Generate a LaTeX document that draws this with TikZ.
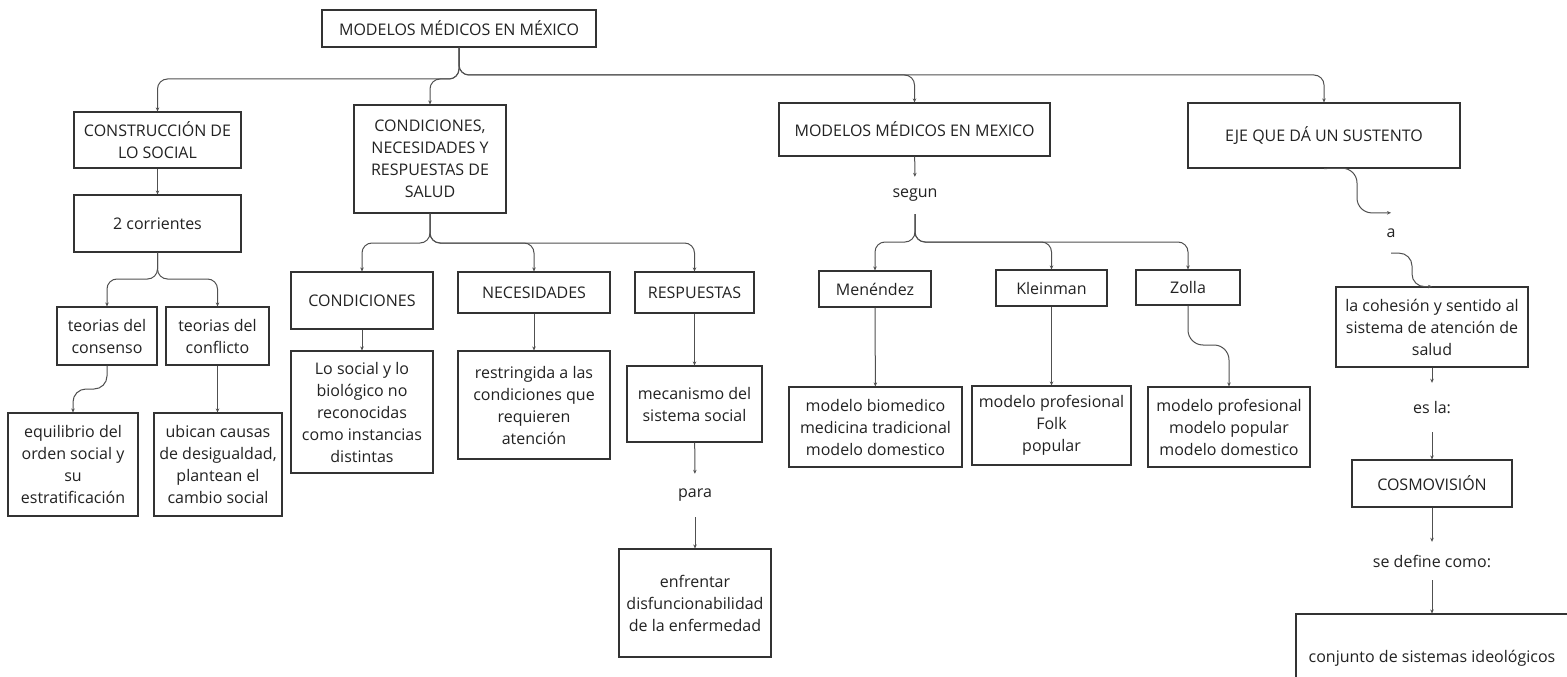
\documentclass[tikz,border=0pt]{standalone}
\usepackage{fontspec}
\setmainfont{Open Sans}
\usetikzlibrary{arrows.meta,calc}
\definecolor{boxc}{HTML}{333333}
\definecolor{linec}{HTML}{505050}
\definecolor{txtc}{HTML}{222222}
\begin{document}
\begin{tikzpicture}[x=1pt,y=-1pt,
  box/.style={draw=boxc,line width=1.1pt,align=center,inner sep=0pt,text=txtc,font=\fontsize{16}{22}\selectfont},
  wh/.style 2 args={minimum width=#1pt,minimum height=#2pt},
  lbl/.style={inner sep=0pt,align=center,text=txtc,font=\fontsize{16}{22}\selectfont},
  conn/.style={draw=linec,line width=1pt,-{Stealth[length=4pt,width=3.5pt]},rounded corners=10pt}]
\useasboundingbox (0,0) rectangle (1567,677);
\clip (0,0) rectangle (1567,677);
\fill[white] (0,0) rectangle (1567,677);
% nodes
\node[box,wh={274}{37}] (root) at (459,28.5) {MODELOS MÉDICOS EN MÉXICO};
\node[box,wh={167}{56}] (cons) at (157.5,140) {CONSTRUCCIÓN DE\\LO SOCIAL};
\node[box,wh={152}{108}] (cnr) at (430,159) {CONDICIONES,\\NECESIDADES Y\\RESPUESTAS DE\\SALUD};
\node[box,wh={271}{53}] (mmm) at (914.5,129.5) {MODELOS MÉDICOS EN MEXICO};
\node[box,wh={272}{65}] (eje) at (1324,135.5) {EJE QUE DÁ UN SUSTENTO};
\node[box,wh={167}{57}] (dos) at (157.5,223.5) {2 corrientes};
\node[box,wh={100}{58}] (consenso) at (107,336) {teorias del\\consenso};
\node[box,wh={103}{58}] (conflicto) at (217.5,336) {teorias del\\conflicto};
\node[box,wh={130}{103}] (equil) at (73,464.5) {equilibrio del\\orden social y\\su\\estratificación};
\node[box,wh={128}{103}] (ubican) at (218,464.5) {ubican causas\\de desigualdad,\\plantean el\\cambio social};
\node[box,wh={142}{57}] (condic) at (362,300.5) {CONDICIONES};
\node[box,wh={142}{122}] (losocial) at (362,412) {Lo social y lo\\biológico no\\reconocidas\\como instancias\\distintas};
\node[box,wh={152}{41}] (neces) at (534,292.5) {NECESIDADES};
\node[box,wh={119}{41}] (respu) at (694.5,292.5) {RESPUESTAS};
\node[box,wh={152}{108}] (restr) at (534,405) {restringida a las\\condiciones que\\requieren\\atención};
\node[box,wh={135}{76}] (mecan) at (694.5,404) {mecanismo del\\sistema social};
\node[lbl,minimum height=43pt] (para) at (695,495.5) {para};
\node[box,wh={152}{108}] (enfr) at (695,603) {enfrentar\\disfuncionabilidad\\de la enfermedad};
\node[lbl,minimum height=37pt] (segun) at (915,195.5) {segun};
\node[box,wh={112}{36}] (menen) at (875,289) {Menéndez};
\node[box,wh={111}{36}] (klein) at (1051.5,288) {Kleinman};
\node[box,wh={104}{35}] (zolla) at (1188,287.5) {Zolla};
\node[box,wh={173}{80}] (bio) at (875.5,427) {modelo biomedico\\medicina tradicional\\modelo domestico};
\node[box,wh={159}{79}] (kprof) at (1051.5,425.5) {modelo profesional\\Folk\\popular};
\node[box,wh={162}{80}] (zprof) at (1229,427) {modelo profesional\\modelo popular\\modelo domestico};
\node[lbl,minimum height=40pt] (a) at (1391,233) {a};
\node[box,wh={192}{80}] (cohes) at (1432,327) {la cohesión y sentido al\\sistema de atención de\\salud};
\node[lbl,minimum height=49pt] (esla) at (1432,407.5) {es la:};
\node[box,wh={160}{47}] (cosmo) at (1432,483.5) {COSMOVISIÓN};
\node[lbl,minimum height=38pt] (sedef) at (1432,561) {se define como:};
\node[box,wh={272}{88}] (conj) at (1432,658) {conjunto de sistemas ideológicos};
% connectors
\draw[conn] (root.south) -- (459,79) -- (157.5,79) -- (cons.north);
\draw[conn] (root.south) -- (459,79) -- (430,79) -- (cnr.north);
\draw[conn] (root.south) -- (459,75) -- (914.5,75) -- (mmm.north);
\draw[conn] (root.south) -- (459,75) -- (1324,75) -- (eje.north);
\draw[conn] (cons) -- (dos);
\draw[conn] (dos.south) -- (157.5,279) -- (107,279) -- (consenso.north);
\draw[conn] (dos.south) -- (157.5,279) -- (217.5,279) -- (conflicto.north);
\draw[conn,rounded corners=13pt] (consenso.south) -- (107,389) -- (73,389) -- (equil.north);
\draw[conn] (conflicto.south) -- (conflicto.south |- ubican.north);
\draw[conn] (cnr.south) -- (430,243) -- (362,243) -- (condic.north);
\draw[conn] (cnr.south) -- (430,243) -- (534,243) -- (neces.north);
\draw[conn] (cnr.south) -- (430,243) -- (694.5,243) -- (respu.north);
\draw[conn] (condic) -- (losocial);
\draw[conn] (neces) -- (restr);
\draw[conn] (respu) -- (mecan);
\draw[conn] (mecan) -- (para);
\draw[conn] (para) -- (enfr);
\draw[conn] (mmm) -- (segun);
\draw[conn] (segun.south) -- (915,242) -- (875,242) -- (menen.north);
\draw[conn] (segun.south) -- (915,242) -- (1051.5,242) -- (klein.north);
\draw[conn] (segun.south) -- (915,242) -- (1188,242) -- (zolla.north);
\draw[conn] (menen) -- (bio);
\draw[conn] (klein) -- (kprof);
\draw[conn,rounded corners=15pt] (zolla.south) -- (1188,345) -- (1229,345) -- (zprof.north);
\draw[conn,rounded corners=15pt] (eje.south) -- (1357,168) -- (1357,213) -- (a.north);
\draw[conn,rounded corners=13pt] (a.south) -- (1412,253) -- (1412,287) -- (cohes.north);
\draw[conn] (cohes) -- (esla);
\draw[conn] (esla) -- (cosmo);
\draw[conn] (cosmo) -- (sedef);
\draw[conn] (sedef) -- (conj);
\end{tikzpicture}
\end{document}
